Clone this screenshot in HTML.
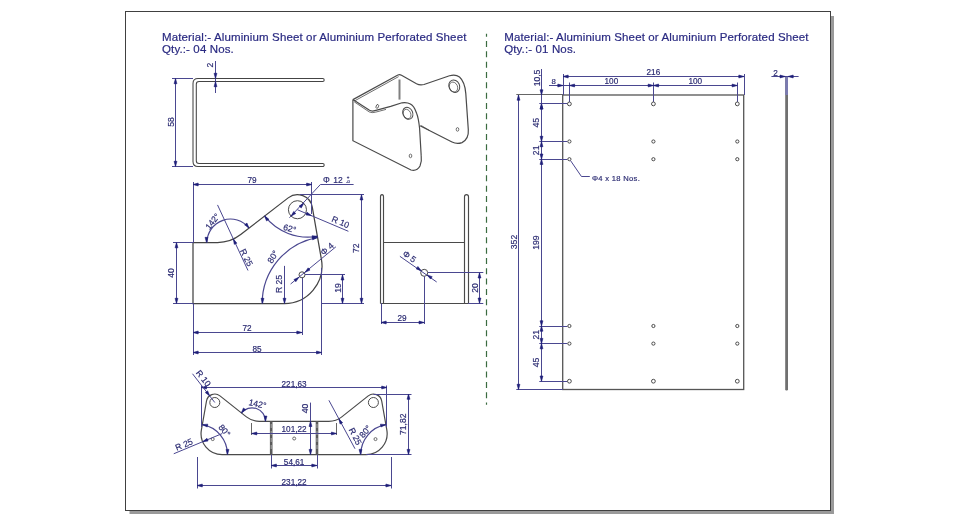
<!DOCTYPE html>
<html><head><meta charset="utf-8"><style>
html,body{margin:0;padding:0;background:#fff;}
svg{display:block;font-family:"Liberation Sans",sans-serif;will-change:transform;}
</style></head><body>
<svg width="960" height="525" viewBox="0 0 960 525">
<rect x="129.5" y="16" width="704.5" height="498" fill="#9a9a9a"/>
<rect x="125.5" y="11.5" width="705" height="499" fill="#fff" stroke="#404040" stroke-width="1"/>
<text x="162" y="41" font-size="11.5" fill="#2a2a82" stroke="#2a2a82" stroke-width="0.2" letter-spacing="0.13">Material:- Aluminium Sheet or Aluminium Perforated Sheet</text>
<text x="162" y="53.3" font-size="11.5" fill="#2a2a82" stroke="#2a2a82" stroke-width="0.2" letter-spacing="0.13">Qty.:- 04 Nos.</text>
<text x="504.2" y="41" font-size="11.5" fill="#2a2a82" stroke="#2a2a82" stroke-width="0.2" letter-spacing="0.13">Material:- Aluminium Sheet or Aluminium Perforated Sheet</text>
<text x="504.2" y="53.3" font-size="11.5" fill="#2a2a82" stroke="#2a2a82" stroke-width="0.2" letter-spacing="0.13">Qty.:- 01 Nos.</text>
<line x1="486.5" y1="33.7" x2="486.5" y2="404.7" stroke="#3a6b40" stroke-width="1.2" stroke-dasharray="6 4.33" stroke-dashoffset="3"/>
<path d="M322.7,78.5 L198.0,78.5 Q193.0,78.5 193.0,83.5 L193.0,161.5 Q193.0,166.5 198.0,166.5 L322.7,166.5 A1.4,1.4 0 0 0 322.7,163.5 L199.10000000000002,163.5 Q196.3,163.5 196.3,160.7 L196.3,84.3 Q196.3,81.5 199.10000000000002,81.5 L322.7,81.5 A1.4,1.4 0 0 0 322.7,78.5 Z" stroke="#444" stroke-width="1.05" fill="none" />
<line x1="172.00" y1="78.50" x2="193.00" y2="78.50" stroke="#4a4790" stroke-width="1" />
<line x1="172.00" y1="166.50" x2="193.00" y2="166.50" stroke="#4a4790" stroke-width="1" />
<line x1="175.50" y1="78.50" x2="175.50" y2="166.50" stroke="#4a4790" stroke-width="1" />
<path d="M175.50,78.50 L176.95,83.70 L174.05,83.70 Z" fill="#1e1e78" stroke="#1e1e78" stroke-width="0.6"/>
<path d="M175.50,166.50 L174.05,161.30 L176.95,161.30 Z" fill="#1e1e78" stroke="#1e1e78" stroke-width="0.6"/>
<text x="170.80" y="122.00" font-size="8.6" text-anchor="middle" dominant-baseline="central" fill="#2b2b72" transform="rotate(-90 170.80 122.00)"  stroke="#2b2b72" stroke-width="0.18">58</text>
<line x1="215.50" y1="61.00" x2="215.50" y2="93.00" stroke="#4a4790" stroke-width="1" />
<path d="M215.50,78.50 L214.05,73.30 L216.95,73.30 Z" fill="#1e1e78" stroke="#1e1e78" stroke-width="0.6"/>
<path d="M215.50,81.50 L216.95,86.70 L214.05,86.70 Z" fill="#1e1e78" stroke="#1e1e78" stroke-width="0.6"/>
<text x="209.50" y="65.00" font-size="8.6" text-anchor="middle" dominant-baseline="central" fill="#2b2b72" transform="rotate(-90 209.50 65.00)"  stroke="#2b2b72" stroke-width="0.18">2</text>
<path d="M352.9,99.6 L352.9,140.7 L411,170 Q417,171.5 420,166 Q422,161 421.2,155.9 L419.6,128.5 Q418.5,118 416.6,113.3 Q414,105.5 410.5,104.1 Q407,102 402,102.8 L390.7,106.4 L375,110.6 Q372,111.6 369.5,110.3 L352.9,99.6" stroke="#4a4a4a" stroke-width="1.2" fill="none" />
<path d="M354.2,101.8 L369.2,111.9 Q372,113.2 375.5,112.2 L386,109.4" stroke="#4a4a4a" stroke-width="0.8" fill="none" />
<path d="M352.9,99.6 L397.9,75" stroke="#4a4a4a" stroke-width="1.2" fill="none" />
<path d="M354.6,100.9 L398.6,76.6" stroke="#4a4a4a" stroke-width="0.8" fill="none" />
<line x1="399.50" y1="79.50" x2="399.50" y2="99.60" stroke="#808080" stroke-width="2" />
<path d="M397.9,75 Q399.5,74.1 401.5,75.2 L416.5,83.8 Q420,85.6 424,84.5 L449.5,75.8 Q455.5,74 459.5,77 Q465,82 465.8,93.6 L468.3,129.8 Q469,139 462,142.6 Q457,144.5 452,142 L420,125.8" stroke="#4a4a4a" stroke-width="1.2" fill="none" />
<path d="M421.2,125.5 L430,130.8" stroke="#4a4a4a" stroke-width="0.8" fill="none" />
<ellipse cx="407.8" cy="113.3" rx="4.9" ry="6.2" transform="rotate(-25 407.8 113.3)" fill="none" stroke="#4a4a4a" stroke-width="1"/>
<ellipse cx="407.1" cy="114" rx="3.6" ry="4.9" transform="rotate(-25 407.1 114)" fill="none" stroke="#4a4a4a" stroke-width="0.7"/>
<ellipse cx="454.3" cy="86.2" rx="5.3" ry="6.4" transform="rotate(-25 454.3 86.2)" fill="none" stroke="#4a4a4a" stroke-width="1"/>
<ellipse cx="453.5" cy="87" rx="4" ry="5.1" transform="rotate(-25 453.5 87)" fill="none" stroke="#4a4a4a" stroke-width="0.7"/>
<ellipse cx="410.5" cy="155.9" rx="1.3" ry="1.8" fill="none" stroke="#4a4a4a" stroke-width="0.8"/>
<ellipse cx="457.5" cy="129.4" rx="1.3" ry="1.8" fill="none" stroke="#4a4a4a" stroke-width="0.8"/>
<ellipse cx="377.3" cy="106.4" rx="1.2" ry="2" transform="rotate(20 377.3 106.4)" fill="none" stroke="#4a4a4a" stroke-width="0.8"/>
<path d="M193.00,303.50 L193.00,242.55 L217.53,242.55 A37.62,37.62 0 0 0 240.70,234.57 L288.18,197.88 A15.05,15.05 0 0 1 312.27,207.13 L321.41,259.34 A37.62,37.62 0 0 1 284.35,303.50 Z" stroke="#444" stroke-width="1.25" fill="none" />
<circle cx="297.45" cy="209.74" r="9.03" fill="none" stroke="#4a4a4a" stroke-width="1"/>
<circle cx="302.0" cy="274.8" r="3" fill="none" stroke="#4a4a4a" stroke-width="1"/>
<line x1="193.50" y1="182.00" x2="193.50" y2="242.60" stroke="#4a4790" stroke-width="1" />
<line x1="311.50" y1="182.00" x2="311.50" y2="214.00" stroke="#4a4790" stroke-width="1" />
<line x1="193.00" y1="184.50" x2="311.80" y2="184.50" stroke="#4a4790" stroke-width="1" />
<path d="M193.00,184.50 L198.20,183.05 L198.20,185.95 Z" fill="#1e1e78" stroke="#1e1e78" stroke-width="0.6"/>
<path d="M311.80,184.50 L306.60,185.95 L306.60,183.05 Z" fill="#1e1e78" stroke="#1e1e78" stroke-width="0.6"/>
<text x="252.00" y="180.50" font-size="8.2" text-anchor="middle" dominant-baseline="central" fill="#2b2b72"  stroke="#2b2b72" stroke-width="0.18">79</text>
<line x1="289.45" y1="217.74" x2="320.60" y2="184.30" stroke="#4a4790" stroke-width="1" />
<line x1="320.60" y1="184.50" x2="353.60" y2="184.50" stroke="#4a4790" stroke-width="1" />
<path d="M291.05,216.14 L293.70,211.44 L295.75,213.49 Z" fill="#1e1e78" stroke="#1e1e78" stroke-width="0.6"/>
<path d="M303.85,203.34 L301.20,208.04 L299.14,205.99 Z" fill="#1e1e78" stroke="#1e1e78" stroke-width="0.6"/>
<text x="323.00" y="180.30" font-size="8.5" text-anchor="start" dominant-baseline="central" fill="#2b2b72"  stroke="#2b2b72" stroke-width="0.18">&#934;</text>
<text x="333.20" y="180.30" font-size="8.5" text-anchor="start" dominant-baseline="central" fill="#2b2b72"  stroke="#2b2b72" stroke-width="0.18">12</text>
<text x="348.00" y="177.30" font-size="4.5" text-anchor="middle" dominant-baseline="central" fill="#2b2b72"  stroke="#2b2b72" stroke-width="0.18">+</text>
<text x="348.00" y="181.80" font-size="4" text-anchor="middle" dominant-baseline="central" fill="#2b2b72"  stroke="#2b2b72" stroke-width="0.18">-0</text>
<line x1="297.45" y1="209.74" x2="348.40" y2="231.30" stroke="#4a4790" stroke-width="1" />
<path d="M311.31,215.60 L305.96,214.91 L307.09,212.24 Z" fill="#1e1e78" stroke="#1e1e78" stroke-width="0.6"/>
<text x="340.50" y="222.00" font-size="8.6" text-anchor="middle" dominant-baseline="central" fill="#2b2b72" transform="rotate(23 340.50 222.00)"  stroke="#2b2b72" stroke-width="0.18">R 10</text>
<line x1="300.00" y1="194.50" x2="364.00" y2="194.50" stroke="#4a4790" stroke-width="1" />
<line x1="322.00" y1="303.50" x2="364.00" y2="303.50" stroke="#4a4790" stroke-width="1" />
<line x1="361.50" y1="194.69" x2="361.50" y2="303.50" stroke="#4a4790" stroke-width="1" />
<path d="M361.50,194.69 L362.95,199.89 L360.05,199.89 Z" fill="#1e1e78" stroke="#1e1e78" stroke-width="0.6"/>
<path d="M361.50,303.50 L360.05,298.30 L362.95,298.30 Z" fill="#1e1e78" stroke="#1e1e78" stroke-width="0.6"/>
<text x="356.50" y="248.30" font-size="8.6" text-anchor="middle" dominant-baseline="central" fill="#2b2b72" transform="rotate(-90 356.50 248.30)"  stroke="#2b2b72" stroke-width="0.18">72</text>
<line x1="305.00" y1="274.50" x2="345.00" y2="274.50" stroke="#4a4790" stroke-width="1" />
<line x1="342.50" y1="274.80" x2="342.50" y2="303.50" stroke="#4a4790" stroke-width="1" />
<path d="M342.50,274.80 L343.95,280.00 L341.05,280.00 Z" fill="#1e1e78" stroke="#1e1e78" stroke-width="0.6"/>
<path d="M342.50,303.50 L341.05,298.30 L343.95,298.30 Z" fill="#1e1e78" stroke="#1e1e78" stroke-width="0.6"/>
<text x="338.30" y="288.00" font-size="8.6" text-anchor="middle" dominant-baseline="central" fill="#2b2b72" transform="rotate(-90 338.30 288.00)"  stroke="#2b2b72" stroke-width="0.18">19</text>
<line x1="173.00" y1="242.50" x2="193.00" y2="242.50" stroke="#4a4790" stroke-width="1" />
<line x1="173.00" y1="303.50" x2="193.00" y2="303.50" stroke="#4a4790" stroke-width="1" />
<line x1="176.50" y1="242.60" x2="176.50" y2="303.50" stroke="#4a4790" stroke-width="1" />
<path d="M176.50,242.60 L177.95,247.80 L175.05,247.80 Z" fill="#1e1e78" stroke="#1e1e78" stroke-width="0.6"/>
<path d="M176.50,303.50 L175.05,298.30 L177.95,298.30 Z" fill="#1e1e78" stroke="#1e1e78" stroke-width="0.6"/>
<text x="171.40" y="273.00" font-size="8.6" text-anchor="middle" dominant-baseline="central" fill="#2b2b72" transform="rotate(-90 171.40 273.00)"  stroke="#2b2b72" stroke-width="0.18">40</text>
<line x1="193.50" y1="303.50" x2="193.50" y2="355.00" stroke="#4a4790" stroke-width="1" />
<line x1="302.50" y1="278.00" x2="302.50" y2="335.00" stroke="#4a4790" stroke-width="1" />
<line x1="321.50" y1="268.00" x2="321.50" y2="355.00" stroke="#4a4790" stroke-width="1" />
<line x1="193.00" y1="332.50" x2="302.00" y2="332.50" stroke="#4a4790" stroke-width="1" />
<path d="M193.00,332.50 L198.20,331.05 L198.20,333.95 Z" fill="#1e1e78" stroke="#1e1e78" stroke-width="0.6"/>
<path d="M302.00,332.50 L296.80,333.95 L296.80,331.05 Z" fill="#1e1e78" stroke="#1e1e78" stroke-width="0.6"/>
<text x="247.00" y="328.50" font-size="8.2" text-anchor="middle" dominant-baseline="central" fill="#2b2b72"  stroke="#2b2b72" stroke-width="0.18">72</text>
<line x1="193.00" y1="352.50" x2="321.70" y2="352.50" stroke="#4a4790" stroke-width="1" />
<path d="M193.00,352.50 L198.20,351.05 L198.20,353.95 Z" fill="#1e1e78" stroke="#1e1e78" stroke-width="0.6"/>
<path d="M321.70,352.50 L316.50,353.95 L316.50,351.05 Z" fill="#1e1e78" stroke="#1e1e78" stroke-width="0.6"/>
<text x="257.00" y="349.30" font-size="8.2" text-anchor="middle" dominant-baseline="central" fill="#2b2b72"  stroke="#2b2b72" stroke-width="0.18">85</text>
<line x1="284.50" y1="265.88" x2="284.50" y2="303.50" stroke="#4a4790" stroke-width="1" />
<path d="M284.50,303.50 L283.05,298.30 L285.95,298.30 Z" fill="#1e1e78" stroke="#1e1e78" stroke-width="0.6"/>
<text x="279.30" y="284.00" font-size="8.6" text-anchor="middle" dominant-baseline="central" fill="#2b2b72" transform="rotate(-90 279.30 284.00)"  stroke="#2b2b72" stroke-width="0.18">R 25</text>
<line x1="217.53" y1="204.92" x2="248.00" y2="270.50" stroke="#4a4790" stroke-width="1" />
<path d="M233.39,239.04 L236.89,243.15 L234.26,244.37 Z" fill="#1e1e78" stroke="#1e1e78" stroke-width="0.6"/>
<text x="246.50" y="257.50" font-size="8.6" text-anchor="middle" dominant-baseline="central" fill="#2b2b72" transform="rotate(63 246.50 257.50)"  stroke="#2b2b72" stroke-width="0.18">R 25</text>
<line x1="290.60" y1="284.00" x2="335.90" y2="246.80" stroke="#4a4790" stroke-width="1" />
<path d="M298.90,277.30 L295.83,281.74 L293.97,279.51 Z" fill="#1e1e78" stroke="#1e1e78" stroke-width="0.6"/>
<path d="M305.10,272.30 L308.17,267.86 L310.03,270.09 Z" fill="#1e1e78" stroke="#1e1e78" stroke-width="0.6"/>
<text x="327.00" y="249.00" font-size="8.6" text-anchor="middle" dominant-baseline="central" fill="#2b2b72" transform="rotate(-40 327.00 249.00)"  stroke="#2b2b72" stroke-width="0.18">&#934; 4</text>
<path d="M206.99,242.55 A23.50,23.50 0 0 1 249.01,228.08" stroke="#4a4790" stroke-width="1.2" fill="none" />
<path d="M206.50,242.55 L205.05,237.35 L207.95,237.35 Z" fill="#1e1e78" stroke="#1e1e78" stroke-width="0.6"/>
<path d="M249.01,228.08 L244.66,224.87 L246.95,223.09 Z" fill="#1e1e78" stroke="#1e1e78" stroke-width="0.6"/>
<text x="212.50" y="221.50" font-size="8.6" text-anchor="middle" dominant-baseline="central" fill="#2b2b72" transform="rotate(-52 212.50 221.50)"  stroke="#2b2b72" stroke-width="0.18">142&#176;</text>
<path d="M264.52,215.96 A55.00,55.00 0 0 0 317.41,236.26" stroke="#4a4790" stroke-width="1.2" fill="none" />
<path d="M264.52,215.96 L268.86,219.17 L266.57,220.95 Z" fill="#1e1e78" stroke="#1e1e78" stroke-width="0.6"/>
<path d="M317.41,236.26 L312.54,238.60 L312.03,235.74 Z" fill="#1e1e78" stroke="#1e1e78" stroke-width="0.6"/>
<text x="289.70" y="228.50" font-size="8.6" text-anchor="middle" dominant-baseline="central" fill="#2b2b72" transform="rotate(14 289.70 228.50)"  stroke="#2b2b72" stroke-width="0.18">62&#176;</text>
<path d="M262.19,303.50 A67.00,67.00 0 0 1 317.56,237.52" stroke="#4a4790" stroke-width="1.2" fill="none" />
<path d="M262.50,303.50 L261.05,298.30 L263.95,298.30 Z" fill="#1e1e78" stroke="#1e1e78" stroke-width="0.6"/>
<path d="M317.56,237.52 L312.69,239.85 L312.19,236.99 Z" fill="#1e1e78" stroke="#1e1e78" stroke-width="0.6"/>
<text x="272.80" y="256.80" font-size="8.6" text-anchor="middle" dominant-baseline="central" fill="#2b2b72" transform="rotate(-58 272.80 256.80)"  stroke="#2b2b72" stroke-width="0.18">80&#176;</text>
<path d="M380.5,303.5 L380.5,196.8 Q380.5,194.6 382,194.6 Q383.5,194.6 383.5,196.8 L383.5,303.5" stroke="#4a4a4a" stroke-width="1.15" fill="none" />
<path d="M464.5,303.5 L464.5,196.8 Q464.5,194.6 466.5,194.6 Q468.5,194.6 468.5,196.8 L468.5,303.5" stroke="#4a4a4a" stroke-width="1.15" fill="none" />
<line x1="380.50" y1="303.50" x2="468.50" y2="303.50" stroke="#4a4a4a" stroke-width="1" />
<line x1="383.50" y1="242.50" x2="464.50" y2="242.50" stroke="#4a4a4a" stroke-width="1" />
<circle cx="424.2" cy="272.8" r="3.5" fill="none" stroke="#4a4a4a" stroke-width="1"/>
<line x1="399.90" y1="256.30" x2="436.70" y2="282.00" stroke="#4a4790" stroke-width="1" />
<path d="M421.30,270.70 L416.22,268.88 L417.89,266.51 Z" fill="#1e1e78" stroke="#1e1e78" stroke-width="0.6"/>
<path d="M427.10,274.90 L432.20,276.66 L430.56,279.05 Z" fill="#1e1e78" stroke="#1e1e78" stroke-width="0.6"/>
<text x="409.50" y="256.50" font-size="8.6" text-anchor="middle" dominant-baseline="central" fill="#2b2b72" transform="rotate(35 409.50 256.50)"  stroke="#2b2b72" stroke-width="0.18">&#934; 5</text>
<line x1="428.00" y1="272.50" x2="483.30" y2="272.50" stroke="#4a4790" stroke-width="1" />
<line x1="468.20" y1="303.50" x2="483.30" y2="303.50" stroke="#4a4790" stroke-width="1" />
<line x1="479.50" y1="272.80" x2="479.50" y2="303.30" stroke="#4a4790" stroke-width="1" />
<path d="M479.50,272.80 L480.95,278.00 L478.05,278.00 Z" fill="#1e1e78" stroke="#1e1e78" stroke-width="0.6"/>
<path d="M479.50,303.30 L478.05,298.10 L480.95,298.10 Z" fill="#1e1e78" stroke="#1e1e78" stroke-width="0.6"/>
<text x="475.30" y="288.00" font-size="8.6" text-anchor="middle" dominant-baseline="central" fill="#2b2b72" transform="rotate(-90 475.30 288.00)"  stroke="#2b2b72" stroke-width="0.18">20</text>
<line x1="381.50" y1="303.30" x2="381.50" y2="324.00" stroke="#4a4790" stroke-width="1" />
<line x1="424.50" y1="276.30" x2="424.50" y2="324.00" stroke="#4a4790" stroke-width="1" />
<line x1="381.00" y1="322.50" x2="424.20" y2="322.50" stroke="#4a4790" stroke-width="1" />
<path d="M381.00,322.50 L386.20,321.05 L386.20,323.95 Z" fill="#1e1e78" stroke="#1e1e78" stroke-width="0.6"/>
<path d="M424.20,322.50 L419.00,323.95 L419.00,321.05 Z" fill="#1e1e78" stroke="#1e1e78" stroke-width="0.6"/>
<text x="402.00" y="318.20" font-size="8.2" text-anchor="middle" dominant-baseline="central" fill="#2b2b72"  stroke="#2b2b72" stroke-width="0.18">29</text>
<path d="M222.10,454.60 A21,21 0 0 1 201.40,429.90 L206.50,401.00 A8.39,8.39 0 0 1 219.97,395.90 L246.40,416.85 A21,21 0 0 0 259.30,421.30 L328.90,421.30 A21,21 0 0 0 341.80,416.85 L368.23,395.90 A8.39,8.39 0 0 1 381.70,401.00 L386.80,429.90 A21,21 0 0 1 366.10,454.60 Z" stroke="#4a4a4a" stroke-width="1.2" fill="none" />
<circle cx="214.80" cy="402.5" r="5" fill="none" stroke="#4a4a4a" stroke-width="1"/>
<circle cx="373.40" cy="402.5" r="5" fill="none" stroke="#4a4a4a" stroke-width="1"/>
<circle cx="212.70" cy="439.1" r="1.5" fill="none" stroke="#4a4a4a" stroke-width="0.8"/>
<circle cx="375.50" cy="439.1" r="1.5" fill="none" stroke="#4a4a4a" stroke-width="0.8"/>
<circle cx="294.20" cy="438.5" r="1.5" fill="none" stroke="#4a4a4a" stroke-width="0.8"/>
<rect x="269.9" y="421.3" width="2.6" height="33.3" fill="#5a5a5a"/>
<line x1="271.2" y1="424" x2="271.2" y2="452" stroke="#ddd" stroke-width="0.6" stroke-dasharray="4 3"/>
<rect x="315.70000000000005" y="421.3" width="2.6" height="33.3" fill="#5a5a5a"/>
<line x1="317.00000000000006" y1="424" x2="317.00000000000006" y2="452" stroke="#ddd" stroke-width="0.6" stroke-dasharray="4 3"/>
<line x1="201.50" y1="385.50" x2="201.50" y2="427.00" stroke="#4a4790" stroke-width="1" />
<line x1="386.50" y1="385.50" x2="386.50" y2="427.00" stroke="#4a4790" stroke-width="1" />
<line x1="201.30" y1="387.50" x2="386.90" y2="387.50" stroke="#4a4790" stroke-width="1" />
<path d="M201.30,387.50 L206.50,386.05 L206.50,388.95 Z" fill="#1e1e78" stroke="#1e1e78" stroke-width="0.6"/>
<path d="M386.90,387.50 L381.70,388.95 L381.70,386.05 Z" fill="#1e1e78" stroke="#1e1e78" stroke-width="0.6"/>
<text x="294.10" y="384.30" font-size="8.2" text-anchor="middle" dominant-baseline="central" fill="#2b2b72"  stroke="#2b2b72" stroke-width="0.18">221,63</text>
<line x1="373.40" y1="394.50" x2="411.50" y2="394.50" stroke="#4a4790" stroke-width="1" />
<line x1="366.00" y1="454.50" x2="411.50" y2="454.50" stroke="#4a4790" stroke-width="1" />
<line x1="408.50" y1="394.10" x2="408.50" y2="454.60" stroke="#4a4790" stroke-width="1" />
<path d="M408.50,394.10 L409.95,399.30 L407.05,399.30 Z" fill="#1e1e78" stroke="#1e1e78" stroke-width="0.6"/>
<path d="M408.50,454.60 L407.05,449.40 L409.95,449.40 Z" fill="#1e1e78" stroke="#1e1e78" stroke-width="0.6"/>
<text x="403.40" y="424.30" font-size="8.6" text-anchor="middle" dominant-baseline="central" fill="#2b2b72" transform="rotate(-90 403.40 424.30)"  stroke="#2b2b72" stroke-width="0.18">71,82</text>
<line x1="197.50" y1="457.00" x2="197.50" y2="488.50" stroke="#4a4790" stroke-width="1" />
<line x1="391.50" y1="457.00" x2="391.50" y2="488.50" stroke="#4a4790" stroke-width="1" />
<line x1="197.10" y1="485.50" x2="391.10" y2="485.50" stroke="#4a4790" stroke-width="1" />
<path d="M197.10,485.50 L202.30,484.05 L202.30,486.95 Z" fill="#1e1e78" stroke="#1e1e78" stroke-width="0.6"/>
<path d="M391.10,485.50 L385.90,486.95 L385.90,484.05 Z" fill="#1e1e78" stroke="#1e1e78" stroke-width="0.6"/>
<text x="294.10" y="482.20" font-size="8.2" text-anchor="middle" dominant-baseline="central" fill="#2b2b72"  stroke="#2b2b72" stroke-width="0.18">231,22</text>
<line x1="251.50" y1="423.00" x2="251.50" y2="435.00" stroke="#666" stroke-width="1" />
<line x1="336.50" y1="423.00" x2="336.50" y2="435.00" stroke="#666" stroke-width="1" />
<line x1="251.60" y1="433.50" x2="336.60" y2="433.50" stroke="#4a4790" stroke-width="1" />
<path d="M251.60,433.50 L256.80,432.05 L256.80,434.95 Z" fill="#1e1e78" stroke="#1e1e78" stroke-width="0.6"/>
<path d="M336.60,433.50 L331.40,434.95 L331.40,432.05 Z" fill="#1e1e78" stroke="#1e1e78" stroke-width="0.6"/>
<text x="294.10" y="429.30" font-size="8.2" text-anchor="middle" dominant-baseline="central" fill="#2b2b72"  stroke="#2b2b72" stroke-width="0.18">101,22</text>
<line x1="271.50" y1="454.60" x2="271.50" y2="468.50" stroke="#4a4790" stroke-width="1" />
<line x1="317.50" y1="454.60" x2="317.50" y2="468.50" stroke="#4a4790" stroke-width="1" />
<line x1="271.20" y1="465.50" x2="317.00" y2="465.50" stroke="#4a4790" stroke-width="1" />
<path d="M271.20,465.50 L276.40,464.05 L276.40,466.95 Z" fill="#1e1e78" stroke="#1e1e78" stroke-width="0.6"/>
<path d="M317.00,465.50 L311.80,466.95 L311.80,464.05 Z" fill="#1e1e78" stroke="#1e1e78" stroke-width="0.6"/>
<text x="294.10" y="462.30" font-size="8.2" text-anchor="middle" dominant-baseline="central" fill="#2b2b72"  stroke="#2b2b72" stroke-width="0.18">54,61</text>
<line x1="310.50" y1="402.60" x2="310.50" y2="454.60" stroke="#4a4790" stroke-width="1" />
<path d="M310.50,421.30 L311.95,426.50 L309.05,426.50 Z" fill="#1e1e78" stroke="#1e1e78" stroke-width="0.6"/>
<path d="M310.50,454.60 L309.05,449.40 L311.95,449.40 Z" fill="#1e1e78" stroke="#1e1e78" stroke-width="0.6"/>
<text x="305.00" y="408.50" font-size="8.6" text-anchor="middle" dominant-baseline="central" fill="#2b2b72" transform="rotate(-90 305.00 408.50)"  stroke="#2b2b72" stroke-width="0.18">40</text>
<path d="M241.36,412.99 A13.50,13.50 0 0 1 265.50,421.30" stroke="#4a4790" stroke-width="1.2" fill="none" />
<path d="M241.36,412.99 L243.42,408.00 L245.71,409.78 Z" fill="#1e1e78" stroke="#1e1e78" stroke-width="0.6"/>
<path d="M265.50,421.30 L264.05,416.10 L266.95,416.10 Z" fill="#1e1e78" stroke="#1e1e78" stroke-width="0.6"/>
<text x="257.50" y="404.00" font-size="8.6" text-anchor="middle" dominant-baseline="central" fill="#2b2b72" transform="rotate(12 257.50 404.00)"  stroke="#2b2b72" stroke-width="0.18">142&#176;</text>
<path d="M227.50,454.60 A30.40,30.40 0 0 0 202.38,424.66" stroke="#4a4790" stroke-width="1.2" fill="none" />
<path d="M227.50,454.60 L226.05,449.40 L228.95,449.40 Z" fill="#1e1e78" stroke="#1e1e78" stroke-width="0.6"/>
<path d="M202.38,424.66 L207.75,424.14 L207.25,426.99 Z" fill="#1e1e78" stroke="#1e1e78" stroke-width="0.6"/>
<text x="224.50" y="430.50" font-size="8.6" text-anchor="middle" dominant-baseline="central" fill="#2b2b72" transform="rotate(50 224.50 430.50)"  stroke="#2b2b72" stroke-width="0.18">80&#176;</text>
<path d="M360.70,454.60 A30.40,30.40 0 0 1 385.82,424.66" stroke="#4a4790" stroke-width="1.2" fill="none" />
<path d="M360.50,454.60 L359.05,449.40 L361.95,449.40 Z" fill="#1e1e78" stroke="#1e1e78" stroke-width="0.6"/>
<path d="M385.82,424.66 L380.95,426.99 L380.45,424.14 Z" fill="#1e1e78" stroke="#1e1e78" stroke-width="0.6"/>
<text x="365.20" y="431.50" font-size="8.6" text-anchor="middle" dominant-baseline="central" fill="#2b2b72" transform="rotate(-50 365.20 431.50)"  stroke="#2b2b72" stroke-width="0.18">80&#176;</text>
<line x1="192.50" y1="373.75" x2="214.80" y2="402.50" stroke="#4a4790" stroke-width="1" />
<path d="M209.66,395.87 L205.33,392.65 L207.62,390.87 Z" fill="#1e1e78" stroke="#1e1e78" stroke-width="0.6"/>
<text x="203.50" y="378.20" font-size="8.6" text-anchor="middle" dominant-baseline="central" fill="#2b2b72" transform="rotate(52 203.50 378.20)"  stroke="#2b2b72" stroke-width="0.18">R 10</text>
<line x1="173.75" y1="453.75" x2="222.10" y2="433.60" stroke="#4a4790" stroke-width="1" />
<path d="M202.72,441.68 L206.96,438.34 L208.07,441.02 Z" fill="#1e1e78" stroke="#1e1e78" stroke-width="0.6"/>
<text x="184.00" y="444.50" font-size="8.6" text-anchor="middle" dominant-baseline="central" fill="#2b2b72" transform="rotate(-22.6 184.00 444.50)"  stroke="#2b2b72" stroke-width="0.18">R 25</text>
<line x1="328.90" y1="400.30" x2="355.00" y2="448.75" stroke="#4a4790" stroke-width="1" />
<path d="M338.86,418.79 L342.60,422.68 L340.05,424.05 Z" fill="#1e1e78" stroke="#1e1e78" stroke-width="0.6"/>
<text x="355.30" y="436.30" font-size="8.6" text-anchor="middle" dominant-baseline="central" fill="#2b2b72" transform="rotate(62.5 355.30 436.30)"  stroke="#2b2b72" stroke-width="0.18">R 25</text>
<rect x="562.7" y="95" width="181" height="294.5" fill="none" stroke="#555" stroke-width="1.3"/>
<line x1="563.50" y1="74.00" x2="563.50" y2="95.00" stroke="#4a4790" stroke-width="1" />
<line x1="744.50" y1="74.00" x2="744.50" y2="95.00" stroke="#4a4790" stroke-width="1" />
<line x1="569.50" y1="82.50" x2="569.50" y2="101.90" stroke="#4a4790" stroke-width="1" />
<line x1="653.50" y1="82.50" x2="653.50" y2="101.90" stroke="#4a4790" stroke-width="1" />
<line x1="737.50" y1="82.50" x2="737.50" y2="101.90" stroke="#4a4790" stroke-width="1" />
<line x1="539.30" y1="103.50" x2="567.40" y2="103.50" stroke="#4a4790" stroke-width="1" />
<line x1="539.30" y1="141.50" x2="567.40" y2="141.50" stroke="#4a4790" stroke-width="1" />
<line x1="539.30" y1="159.50" x2="567.40" y2="159.50" stroke="#4a4790" stroke-width="1" />
<line x1="539.30" y1="326.50" x2="567.40" y2="326.50" stroke="#4a4790" stroke-width="1" />
<line x1="539.30" y1="343.50" x2="567.40" y2="343.50" stroke="#4a4790" stroke-width="1" />
<line x1="539.30" y1="381.50" x2="567.40" y2="381.50" stroke="#4a4790" stroke-width="1" />
<line x1="516.30" y1="94.50" x2="563.00" y2="94.50" stroke="#666" stroke-width="1.2" />
<line x1="516.30" y1="389.50" x2="563.00" y2="389.50" stroke="#4a4790" stroke-width="1" />
<circle cx="569.4" cy="103.9" r="1.9" fill="#fff" stroke="#3a3a3a" stroke-width="0.9"/>
<circle cx="569.4" cy="141.5" r="1.6" fill="#fff" stroke="#3a3a3a" stroke-width="0.9"/>
<circle cx="569.4" cy="159.2" r="1.6" fill="#fff" stroke="#3a3a3a" stroke-width="0.9"/>
<circle cx="569.4" cy="326" r="1.6" fill="#fff" stroke="#3a3a3a" stroke-width="0.9"/>
<circle cx="569.4" cy="343.6" r="1.6" fill="#fff" stroke="#3a3a3a" stroke-width="0.9"/>
<circle cx="569.4" cy="381.2" r="1.9" fill="#fff" stroke="#3a3a3a" stroke-width="0.9"/>
<circle cx="653.4" cy="103.9" r="1.9" fill="#fff" stroke="#3a3a3a" stroke-width="0.9"/>
<circle cx="653.4" cy="141.5" r="1.6" fill="#fff" stroke="#3a3a3a" stroke-width="0.9"/>
<circle cx="653.4" cy="159.2" r="1.6" fill="#fff" stroke="#3a3a3a" stroke-width="0.9"/>
<circle cx="653.4" cy="326" r="1.6" fill="#fff" stroke="#3a3a3a" stroke-width="0.9"/>
<circle cx="653.4" cy="343.6" r="1.6" fill="#fff" stroke="#3a3a3a" stroke-width="0.9"/>
<circle cx="653.4" cy="381.2" r="1.9" fill="#fff" stroke="#3a3a3a" stroke-width="0.9"/>
<circle cx="737.3" cy="103.9" r="1.9" fill="#fff" stroke="#3a3a3a" stroke-width="0.9"/>
<circle cx="737.3" cy="141.5" r="1.6" fill="#fff" stroke="#3a3a3a" stroke-width="0.9"/>
<circle cx="737.3" cy="159.2" r="1.6" fill="#fff" stroke="#3a3a3a" stroke-width="0.9"/>
<circle cx="737.3" cy="326" r="1.6" fill="#fff" stroke="#3a3a3a" stroke-width="0.9"/>
<circle cx="737.3" cy="343.6" r="1.6" fill="#fff" stroke="#3a3a3a" stroke-width="0.9"/>
<circle cx="737.3" cy="381.2" r="1.9" fill="#fff" stroke="#3a3a3a" stroke-width="0.9"/>
<line x1="563.00" y1="76.50" x2="744.00" y2="76.50" stroke="#4a4790" stroke-width="1" />
<path d="M563.00,76.50 L568.20,75.05 L568.20,77.95 Z" fill="#1e1e78" stroke="#1e1e78" stroke-width="0.6"/>
<path d="M744.00,76.50 L738.80,77.95 L738.80,75.05 Z" fill="#1e1e78" stroke="#1e1e78" stroke-width="0.6"/>
<text x="653.40" y="72.80" font-size="8.2" text-anchor="middle" dominant-baseline="central" fill="#2b2b72"  stroke="#2b2b72" stroke-width="0.18">216</text>
<line x1="549.00" y1="85.50" x2="737.30" y2="85.50" stroke="#4a4790" stroke-width="1" />
<path d="M569.40,85.50 L574.60,84.05 L574.60,86.95 Z" fill="#1e1e78" stroke="#1e1e78" stroke-width="0.6"/>
<path d="M653.40,85.50 L648.20,86.95 L648.20,84.05 Z" fill="#1e1e78" stroke="#1e1e78" stroke-width="0.6"/>
<path d="M653.40,85.50 L658.60,84.05 L658.60,86.95 Z" fill="#1e1e78" stroke="#1e1e78" stroke-width="0.6"/>
<path d="M737.30,85.50 L732.10,86.95 L732.10,84.05 Z" fill="#1e1e78" stroke="#1e1e78" stroke-width="0.6"/>
<path d="M563.00,85.50 L557.80,86.95 L557.80,84.05 Z" fill="#1e1e78" stroke="#1e1e78" stroke-width="0.6"/>
<text x="611.40" y="81.60" font-size="8.2" text-anchor="middle" dominant-baseline="central" fill="#2b2b72"  stroke="#2b2b72" stroke-width="0.18">100</text>
<text x="695.30" y="81.60" font-size="8.2" text-anchor="middle" dominant-baseline="central" fill="#2b2b72"  stroke="#2b2b72" stroke-width="0.18">100</text>
<text x="553.60" y="81.00" font-size="7.8" text-anchor="middle" dominant-baseline="central" fill="#2b2b72"  stroke="#2b2b72" stroke-width="0.18">8</text>
<line x1="518.50" y1="95.00" x2="518.50" y2="389.50" stroke="#4a4790" stroke-width="1" />
<path d="M518.50,95.00 L519.95,100.20 L517.05,100.20 Z" fill="#1e1e78" stroke="#1e1e78" stroke-width="0.6"/>
<path d="M518.50,389.50 L517.05,384.30 L519.95,384.30 Z" fill="#1e1e78" stroke="#1e1e78" stroke-width="0.6"/>
<text x="514.00" y="242.00" font-size="8.6" text-anchor="middle" dominant-baseline="central" fill="#2b2b72" transform="rotate(-90 514.00 242.00)"  stroke="#2b2b72" stroke-width="0.18">352</text>
<line x1="541.50" y1="69.00" x2="541.50" y2="381.20" stroke="#4a4790" stroke-width="1" />
<path d="M541.50,95.00 L540.05,89.80 L542.95,89.80 Z" fill="#1e1e78" stroke="#1e1e78" stroke-width="0.6"/>
<path d="M541.50,103.90 L542.95,109.10 L540.05,109.10 Z" fill="#1e1e78" stroke="#1e1e78" stroke-width="0.6"/>
<path d="M541.50,103.90 L542.95,109.10 L540.05,109.10 Z" fill="#1e1e78" stroke="#1e1e78" stroke-width="0.6"/>
<path d="M541.50,141.50 L540.05,136.30 L542.95,136.30 Z" fill="#1e1e78" stroke="#1e1e78" stroke-width="0.6"/>
<path d="M541.50,141.50 L542.95,146.70 L540.05,146.70 Z" fill="#1e1e78" stroke="#1e1e78" stroke-width="0.6"/>
<path d="M541.50,159.20 L540.05,154.00 L542.95,154.00 Z" fill="#1e1e78" stroke="#1e1e78" stroke-width="0.6"/>
<path d="M541.50,159.20 L542.95,164.40 L540.05,164.40 Z" fill="#1e1e78" stroke="#1e1e78" stroke-width="0.6"/>
<path d="M541.50,326.00 L540.05,320.80 L542.95,320.80 Z" fill="#1e1e78" stroke="#1e1e78" stroke-width="0.6"/>
<path d="M541.50,326.00 L542.95,331.20 L540.05,331.20 Z" fill="#1e1e78" stroke="#1e1e78" stroke-width="0.6"/>
<path d="M541.50,343.60 L540.05,338.40 L542.95,338.40 Z" fill="#1e1e78" stroke="#1e1e78" stroke-width="0.6"/>
<path d="M541.50,343.60 L542.95,348.80 L540.05,348.80 Z" fill="#1e1e78" stroke="#1e1e78" stroke-width="0.6"/>
<path d="M541.50,381.20 L540.05,376.00 L542.95,376.00 Z" fill="#1e1e78" stroke="#1e1e78" stroke-width="0.6"/>
<text x="536.70" y="78.00" font-size="8.6" text-anchor="middle" dominant-baseline="central" fill="#2b2b72" transform="rotate(-90 536.70 78.00)"  stroke="#2b2b72" stroke-width="0.18">10,5</text>
<text x="536.50" y="122.70" font-size="8.6" text-anchor="middle" dominant-baseline="central" fill="#2b2b72" transform="rotate(-90 536.50 122.70)"  stroke="#2b2b72" stroke-width="0.18">45</text>
<text x="536.50" y="150.35" font-size="8.6" text-anchor="middle" dominant-baseline="central" fill="#2b2b72" transform="rotate(-90 536.50 150.35)"  stroke="#2b2b72" stroke-width="0.18">21</text>
<text x="536.50" y="242.60" font-size="8.6" text-anchor="middle" dominant-baseline="central" fill="#2b2b72" transform="rotate(-90 536.50 242.60)"  stroke="#2b2b72" stroke-width="0.18">199</text>
<text x="536.50" y="334.80" font-size="8.6" text-anchor="middle" dominant-baseline="central" fill="#2b2b72" transform="rotate(-90 536.50 334.80)"  stroke="#2b2b72" stroke-width="0.18">21</text>
<text x="536.50" y="362.40" font-size="8.6" text-anchor="middle" dominant-baseline="central" fill="#2b2b72" transform="rotate(-90 536.50 362.40)"  stroke="#2b2b72" stroke-width="0.18">45</text>
<line x1="570.60" y1="160.70" x2="581.50" y2="176.60" stroke="#4a4790" stroke-width="1" />
<line x1="581.50" y1="176.50" x2="589.80" y2="176.50" stroke="#4a4790" stroke-width="1" />
<text x="592.00" y="178.80" font-size="7.6" text-anchor="start" dominant-baseline="central" fill="#2b2b72" letter-spacing="0.3" stroke="#2b2b72" stroke-width="0.18">&#934;4 x 18 Nos.</text>
<rect x="785.2" y="76" width="2.8" height="314.5" rx="1.2" fill="#707070"/>
<rect x="785.2" y="76" width="2.8" height="19" fill="#7a7ab0"/>
<line x1="771.40" y1="76.50" x2="798.60" y2="76.50" stroke="#4a4790" stroke-width="1" />
<path d="M785.20,76.50 L780.00,77.95 L780.00,75.05 Z" fill="#1e1e78" stroke="#1e1e78" stroke-width="0.6"/>
<path d="M788.00,76.50 L793.20,75.05 L793.20,77.95 Z" fill="#1e1e78" stroke="#1e1e78" stroke-width="0.6"/>
<text x="775.50" y="73.00" font-size="8.2" text-anchor="middle" dominant-baseline="central" fill="#2b2b72"  stroke="#2b2b72" stroke-width="0.18">2</text>
</svg>
</body></html>
